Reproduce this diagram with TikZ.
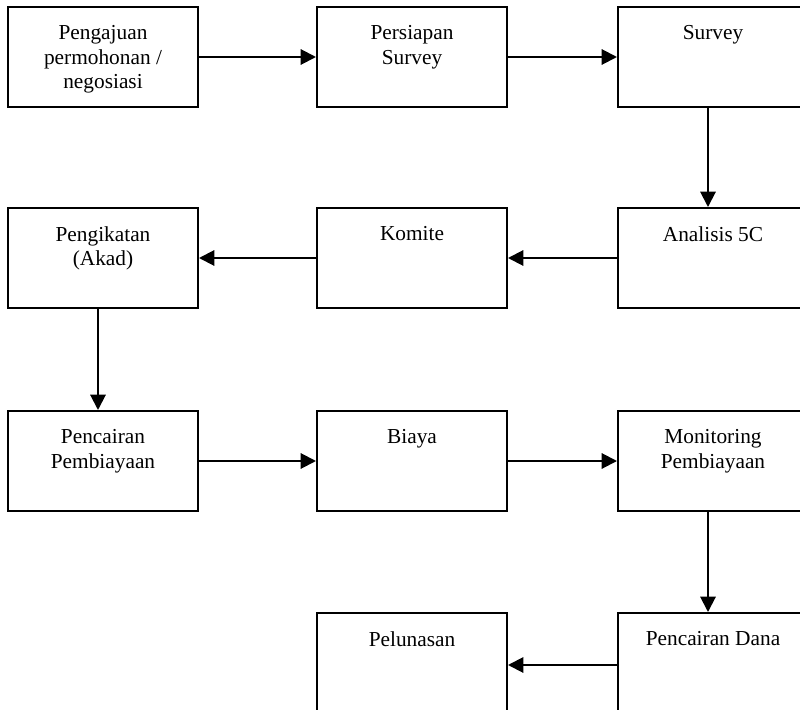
\documentclass[tikz,border=0pt]{standalone}
\usepackage{fontspec}
\setmainfont{Liberation Serif}
\usetikzlibrary{arrows.meta}

\tikzset{
  tahap/.style={draw, line width=1.5pt, minimum width=142.5pt, minimum height=75pt, inner sep=0pt,
    label={[anchor=north, align=center, inner sep=0pt, yshift=-14.5pt, font=\fontsize{16}{18.3}\selectfont]north:{#1}}},
  panah/.style={-{Triangle[length=11.5pt, width=11.5pt]}, line width=1.5pt}
}

\begin{document}
\begin{tikzpicture}[x=0.75pt, y=-0.75pt]
  \clip (0,0) rectangle (800,710);
  % baris 1
  \node[tahap={Pengajuan\\permohonan /\\negosiasi}] (aju) at (103,57) {};
  \node[tahap={Persiapan\\Survey}] (siap) at (412,57) {};
  \node[tahap={Survey}] (survey) at (713,57) {};
  % baris 2
  \node[tahap={Pengikatan\\(Akad)}] (akad) at (103,258) {};
  \node[tahap={Komite}] (komite) at (412,258) {};
  \node[tahap={Analisis 5C}] (analisis) at (713,258) {};
  % baris 3
  \node[tahap={Pencairan\\Pembiayaan}] (cair) at (103,461) {};
  \node[tahap={Biaya}] (biaya) at (412,461) {};
  \node[tahap={Monitoring\\Pembiayaan}] (monitor) at (713,461) {};
  % baris 4
  \node[tahap={Pelunasan}] (lunas) at (412,663) {};
  \node[tahap={Pencairan Dana}] (dana) at (713,663) {};

  \draw[panah] (aju) -- (siap);
  \draw[panah] (siap) -- (survey);
  \draw[panah] ([xshift=-3.75pt]survey.south) -- ([xshift=-3.75pt]analisis.north);
  \draw[panah] (analisis) -- (komite);
  \draw[panah] (komite) -- (akad);
  \draw[panah] ([xshift=-3.75pt]akad.south) -- ([xshift=-3.75pt]cair.north);
  \draw[panah] (cair) -- (biaya);
  \draw[panah] (biaya) -- (monitor);
  \draw[panah] ([xshift=-3.75pt]monitor.south) -- ([xshift=-3.75pt]dana.north);
  \draw[panah] ([yshift=-1.5pt]dana.west) -- ([yshift=-1.5pt]lunas.east);
\end{tikzpicture}
\end{document}
